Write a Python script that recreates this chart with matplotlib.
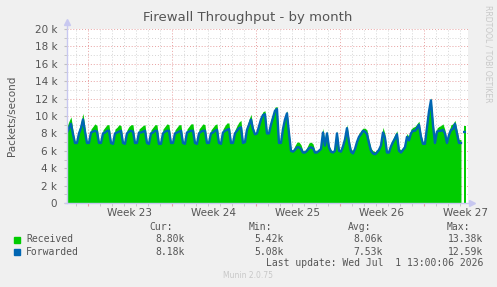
import numpy as np
import matplotlib.pyplot as plt
from matplotlib.ticker import MultipleLocator, FixedLocator
from matplotlib.transforms import blended_transform_factory
from matplotlib.patches import Rectangle

# six samples per day (4 h), values in thousands of packets/second
samples_per_day = 6

received = [
    8.8, 9.4, 9.9, 8.3, 7.0, 7.0,      # day 0
    8.5, 9.3, 10.3, 8.6, 7.0, 7.0,
    8.5, 8.8, 9.1, 8.9, 7.0, 7.0,
    8.4, 8.7, 9.0, 9.0, 7.0, 6.9,
    8.5, 8.7, 9.0, 8.9, 7.0, 6.9,
    8.4, 8.8, 9.0, 9.0, 7.0, 7.0,      # day 5
    8.5, 8.7, 8.9, 9.0, 7.0, 6.9,
    8.4, 8.7, 9.0, 9.0, 6.9, 6.9,
    8.5, 8.8, 9.1, 9.0, 7.0, 7.0,
    8.4, 8.7, 9.0, 9.0, 7.0, 6.9,
    8.5, 8.8, 9.1, 9.1, 7.0, 6.9,      # day 10
    8.5, 8.8, 9.1, 9.0, 7.0, 7.0,
    8.4, 8.7, 9.0, 9.1, 7.0, 6.9,
    8.5, 8.9, 9.2, 9.2, 7.0, 7.0,
    8.4, 8.9, 9.3, 9.5, 7.0, 7.1,
    8.8, 9.6, 10.2, 8.8, 8.0, 8.2,     # day 15
    9.3, 10.0, 10.5, 10.6, 8.2, 8.2,
    9.6, 10.3, 11.0, 11.1, 7.0, 7.0,
    9.0, 10.0, 10.6, 8.3, 6.1, 6.1,
    6.6, 7.0, 7.0, 6.7, 6.0, 6.0,
    6.4, 6.9, 7.0, 6.8, 6.0, 6.0,      # day 20
    6.2, 6.5, 8.6, 7.0, 8.3, 6.6,
    6.1, 6.0, 6.2, 8.3, 6.2, 6.1,
    6.8, 7.6, 9.0, 7.3, 6.2, 6.0,
    6.5, 7.4, 8.0, 8.3, 8.6, 8.6,
    8.4, 7.2, 6.3, 6.0, 5.9, 6.1,      # day 25
    6.4, 7.0, 8.7, 7.9, 6.0, 6.0,
    6.8, 7.4, 7.9, 8.3, 6.3, 6.1,
    6.4, 6.8, 8.0, 7.6, 8.5, 8.7,
    8.8, 9.1, 9.4, 7.9, 7.0, 7.0,
    9.2, 11.0, 12.1, 9.4, 7.1, 8.6,    # day 30
    8.8, 8.9, 9.1, 8.4, 7.1, 8.2,
    9.0, 9.1, 9.5, 8.4, 7.3, 7.3,
]

forwarded = [
    8.1, 8.6, 9.1, 7.9, 6.9, 6.9,      # day 0
    8.0, 8.6, 9.6, 8.2, 6.9, 6.9,
    8.1, 8.2, 8.3, 8.2, 6.9, 6.9,
    8.0, 8.1, 8.3, 8.3, 6.9, 6.8,
    8.0, 8.1, 8.2, 8.3, 6.9, 6.8,
    8.0, 8.2, 8.3, 8.2, 6.9, 6.9,      # day 5
    8.1, 8.1, 8.2, 8.3, 6.9, 6.8,
    8.0, 8.1, 8.3, 8.3, 6.8, 6.8,
    8.0, 8.2, 8.3, 8.3, 6.9, 6.9,
    8.0, 8.1, 8.2, 8.3, 6.9, 6.8,
    8.1, 8.2, 8.3, 8.3, 6.9, 6.8,      # day 10
    8.0, 8.2, 8.3, 8.3, 6.9, 6.9,
    8.0, 8.1, 8.3, 8.4, 6.9, 6.8,
    8.1, 8.3, 8.4, 8.5, 6.9, 6.9,
    8.0, 8.3, 8.6, 8.7, 6.9, 7.0,
    8.4, 9.0, 9.6, 8.5, 7.9, 8.0,      # day 15
    8.8, 9.6, 10.1, 10.2, 8.0, 8.0,
    9.0, 9.8, 10.6, 10.8, 6.9, 6.9,
    8.5, 9.6, 10.3, 8.0, 6.0, 5.9,
    6.1, 6.4, 6.4, 6.2, 5.8, 5.8,
    6.0, 6.3, 6.4, 6.3, 5.8, 5.8,      # day 20
    6.0, 6.2, 8.1, 6.6, 8.0, 6.4,
    5.9, 5.8, 6.0, 8.0, 6.0, 5.9,
    6.5, 7.3, 8.6, 7.0, 5.9, 5.7,
    6.2, 7.0, 7.6, 7.9, 8.3, 8.2,
    7.9, 6.9, 6.0, 5.7, 5.6, 5.8,      # day 25
    6.1, 6.6, 8.1, 7.5, 5.8, 5.8,
    6.5, 7.0, 7.4, 7.9, 6.0, 5.8,
    6.1, 6.4, 7.6, 7.2, 8.0, 8.3,
    8.3, 8.6, 9.0, 7.6, 6.8, 6.8,
    8.6, 10.5, 11.8, 9.0, 6.9, 8.2,    # day 30
    8.3, 8.3, 8.4, 8.0, 6.9, 7.8,
    8.4, 8.5, 9.1, 8.0, 6.9, 6.9,
]

received_cur = 8.80
forwarded_cur = 8.18

week_starts = [1.75, 8.75, 15.75, 22.75, 29.75]
week_labels = ["Week 23", "Week 24", "Week 25", "Week 26", "Week 27"]

series_names = ["Received", "Forwarded"]
series_colors = ["#00cc00", "#0066b3"]
cur_values = ["8.80k", "8.18k"]
min_values = ["5.42k", "5.08k"]
avg_values = ["8.06k", "7.53k"]
max_values = ["13.38k", "12.59k"]

W, H = 497, 287
text_color = "#555555"
axis_color = "#c8c8f0"


def fx(px):
    return px / W


def fy(py):
    return 1 - py / H


fig = plt.figure(figsize=(W / 100, H / 100), dpi=100, facecolor="#f0f0f0")
ax = fig.add_axes([fx(67), fy(203), fx(468) - fx(67), fy(29) - fy(203)])
ax.set_facecolor("white")

t = np.arange(len(received)) / samples_per_day
t_cur = (len(received) + 1) / samples_per_day

ax.fill_between(t, received, color=series_colors[0], lw=0, zorder=2)
ax.plot(t, forwarded, color=series_colors[1], lw=1.7, zorder=3)
ax.bar(t_cur, received_cur, width=1 / samples_per_day, color=series_colors[0], lw=0, zorder=2)
ax.hlines(forwarded_cur, t_cur - 0.2, t_cur + 0.05, color=series_colors[1], lw=1.7, zorder=3)

ax.set_xlim(0, 33.42)
ax.set_ylim(0, 20)

# grid: red dotted majors, grey dotted minors
ax.yaxis.set_major_locator(MultipleLocator(2))
ax.yaxis.set_minor_locator(MultipleLocator(1))
ax.xaxis.set_major_locator(FixedLocator(week_starts))
ax.xaxis.set_minor_locator(MultipleLocator(1, offset=0.75))
ax.grid(which="minor", color="#d4d4d4", lw=0.7, ls=(0, (1, 2)), zorder=1)
ax.grid(which="major", color="#e8a0a0", lw=0.7, ls=(0, (1, 2)), zorder=1)
ax.set_axisbelow(True)

ax.yaxis.set_major_formatter(lambda v, p: "0" if v == 0 else f"{int(v)} k")
ax.set_xticklabels([])
ax.tick_params(axis="y", which="both", length=2, color="#c0c0c0", labelsize=7.5,
               labelcolor=text_color, pad=5)
ax.tick_params(axis="x", which="major", length=2, color="#e8a0a0", direction="out")
ax.tick_params(axis="x", which="minor", length=2, color="#c0c0c0", direction="out")

for side in ["top", "right", "left", "bottom"]:
    ax.spines[side].set_visible(False)

# axis lines with arrows
ax.plot([0, 0], [0, 1.04], transform=ax.transAxes, color=axis_color, lw=1, clip_on=False, zorder=4)
ax.plot([0], [1.04], transform=ax.transAxes, marker="^", ms=4, color=axis_color, clip_on=False, zorder=4)
ax.plot([-0.005, 1.01], [0, 0], transform=ax.transAxes, color=axis_color, lw=1, clip_on=False, zorder=4)
ax.plot([1.01], [0], transform=ax.transAxes, marker=">", ms=4, color=axis_color, clip_on=False, zorder=4)

trans = blended_transform_factory(ax.transData, ax.transAxes)
for ws, label in zip(week_starts, week_labels):
    ax.text(ws + 3.5, -0.057, label, transform=trans, ha="center", va="center",
            fontsize=7.5, color=text_color)

fig.text(fx(248), fy(18), "Firewall Throughput - by month", ha="center", va="center",
         fontsize=9.5, color=text_color)
fig.text(fx(12), fy(116), "Packets/second", rotation=90, ha="center", va="center",
         fontsize=7.5, color=text_color)
fig.text(fx(488), fy(5), "RRDTOOL / TOBI OETIKER", rotation=270, ha="center", va="top",
         fontsize=5.5, color="#c8c8c8")

# legend
mono = "DejaVu Sans Mono"
for label, right in zip(["Cur:", "Min:", "Avg:", "Max:"], [173, 272, 371, 470]):
    fig.text(fx(right), fy(227.5), label, ha="right", va="center", family=mono,
             fontsize=7, color=text_color)

rows = zip(series_names, series_colors, cur_values, min_values, avg_values, max_values)
for i, (name, color, cur, mn, av, mx) in enumerate(rows):
    y = 239.5 + i * 12.2
    fig.patches.append(Rectangle((fx(14), fy(y + 3)), fx(6), 6 / H, color=color,
                                 transform=fig.transFigure, figure=fig))
    fig.text(fx(26), fy(y), name, ha="left", va="center", family=mono, fontsize=7,
             color=text_color)
    for val, right in zip([cur, mn, av, mx], [185, 284, 383, 483]):
        fig.text(fx(right), fy(y), val, ha="right", va="center", family=mono,
                 fontsize=7, color=text_color)

fig.text(fx(483), fy(263.5), "Last update: Wed Jul  1 13:00:06 2026", ha="right",
         va="center", family=mono, fontsize=7, color=text_color)
fig.text(fx(248), fy(276), "Munin 2.0.75", ha="center", va="center", fontsize=5.5,
         color="#c8c8c8")

fig.savefig("out.png", dpi=100, facecolor=fig.get_facecolor())
